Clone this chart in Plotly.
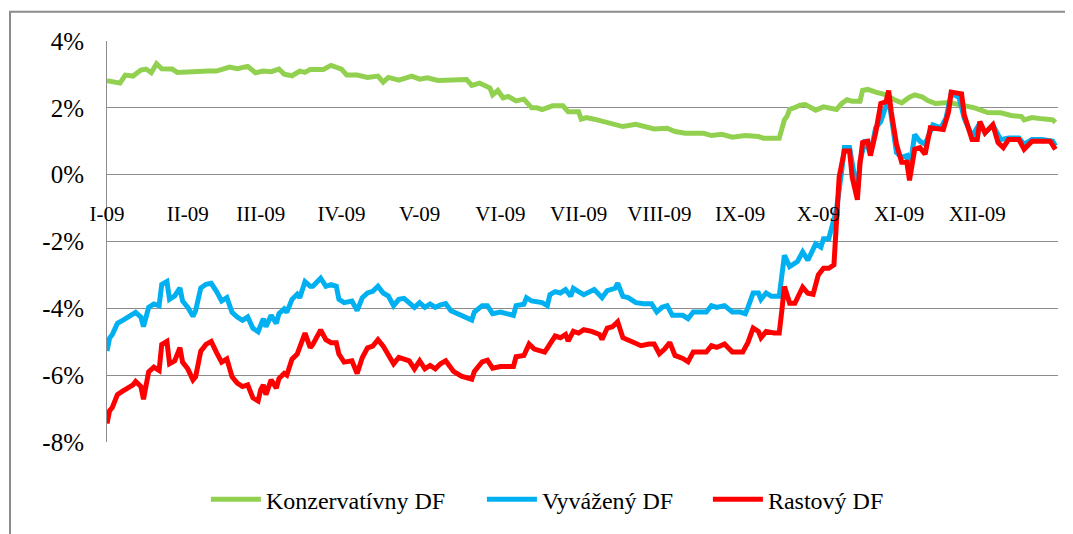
import pandas as pd
import plotly.graph_objects as go

# day of year 2009 (0 = 1 Jan) and return in %
START = pd.Timestamp("2009-01-01")

kons_days = [0, 5, 7, 10, 13, 15, 17, 19, 21, 25, 27, 31, 35, 39, 42, 45, 47, 50, 54, 57,
             60, 63, 66, 68, 71, 74, 76, 78, 83, 86, 90, 92, 96, 100, 104, 106, 108, 112, 117, 120,
             123, 127, 133, 138, 140, 143, 147, 148, 150, 152, 154, 157, 160, 163, 165, 167, 171, 175, 177, 181,
             182, 184, 187, 190, 193, 198, 203, 206, 210, 215, 218, 222, 229, 232, 236, 240, 245, 250, 252, 258,
             259, 260, 261, 262, 264, 266, 268, 270, 272, 275, 278, 280, 282, 284, 286, 289, 290, 292, 295, 299,
             302, 305, 308, 310, 313, 315, 318, 323, 328, 333, 338, 343, 347, 351, 352, 355, 359, 363, 364]
kons_vals = [2.81, 2.74, 2.98, 2.95, 3.13, 3.16, 3.05, 3.32, 3.17, 3.16, 3.06, 3.08, 3.11, 3.10, 3.10, 3.19, 3.22, 3.17, 3.24, 3.05,
             3.10, 3.08, 3.16, 3.01, 2.96, 3.10, 3.06, 3.15, 3.15, 3.27, 3.16, 2.98, 2.98, 2.91, 2.95, 2.77, 2.91, 2.83, 2.95, 2.86,
             2.90, 2.82, 2.82, 2.85, 2.67, 2.74, 2.59, 2.39, 2.52, 2.30, 2.34, 2.21, 2.26, 2.00, 2.00, 1.95, 2.06, 2.06, 1.88, 1.88,
             1.66, 1.71, 1.66, 1.59, 1.54, 1.44, 1.51, 1.44, 1.37, 1.39, 1.29, 1.24, 1.24, 1.17, 1.21, 1.12, 1.17, 1.14, 1.09, 1.09,
             1.40, 1.64, 1.75, 1.95, 2.01, 2.08, 2.10, 2.00, 1.93, 2.03, 1.96, 1.95, 2.13, 2.24, 2.20, 2.20, 2.52, 2.55, 2.47, 2.39,
             2.25, 2.15, 2.32, 2.39, 2.32, 2.22, 2.13, 2.16, 2.08, 2.00, 1.86, 1.85, 1.77, 1.74, 1.64, 1.71, 1.67, 1.64, 1.56]

vyv_days = [0, 1, 2, 4, 6, 8, 10, 11, 13, 14, 15, 16, 18, 20, 21, 23, 24, 26, 28, 29,
            31, 33, 34, 36, 38, 40, 42, 44, 46, 48, 50, 52, 54, 56, 58, 59, 60, 61, 63, 65,
            66, 68, 69, 71, 73, 74, 76, 78, 79, 82, 84, 86, 88, 89, 91, 94, 96, 98, 100, 102,
            104, 106, 108, 110, 112, 114, 116, 118, 120, 122, 124, 126, 128, 130, 132, 133, 136, 138, 140, 141,
            144, 146, 148, 151, 154, 156, 157, 160, 161, 163, 167, 169, 170, 172, 174, 176, 178, 179, 181, 183,
            187, 189, 190, 192, 195, 196, 198, 200, 203, 206, 209, 211, 213, 215, 217, 221, 223, 225, 230, 232,
            234, 237, 240, 243, 245, 246, 248, 250, 251, 253, 255, 258, 259, 260, 262, 265, 267, 269, 272, 274,
            275, 277, 278, 280, 282, 283, 285, 287, 288, 289, 291, 293, 295, 297, 299, 300, 301, 303, 305, 307,
            308, 310, 312, 314, 317, 320, 322, 324, 327, 329, 332, 335, 337, 340, 343, 346, 350, 352, 355, 359,
            363, 364]
vyv_vals = [-5.28, -4.89, -4.79, -4.45, -4.36, -4.26, -4.16, -4.12, -4.26, -4.55, -4.26, -3.97, -3.87, -3.92, -3.29, -3.20, -3.73, -3.63, -3.39, -3.78,
            -3.97, -4.24, -4.07, -3.39, -3.28, -3.25, -3.49, -3.78, -3.68, -4.12, -4.26, -4.36, -4.26, -4.60, -4.70, -4.50, -4.31, -4.55, -4.21, -4.45,
            -4.16, -4.02, -4.12, -3.73, -3.58, -3.68, -3.20, -3.34, -3.34, -3.10, -3.34, -3.29, -3.34, -3.73, -3.83, -3.78, -4.07, -3.68, -3.54, -3.49,
            -3.34, -3.54, -3.63, -3.92, -3.73, -3.70, -3.83, -3.97, -3.83, -3.97, -3.87, -3.97, -3.90, -3.86, -4.07, -4.11, -4.21, -4.31, -4.35, -4.11,
            -3.92, -3.92, -4.16, -4.11, -4.16, -4.21, -3.92, -3.88, -3.68, -3.78, -3.83, -3.92, -3.59, -3.50, -3.54, -3.44, -3.64, -3.40, -3.50, -3.59,
            -3.44, -3.59, -3.68, -3.47, -3.40, -3.25, -3.64, -3.68, -3.83, -3.86, -3.86, -4.11, -3.97, -3.92, -4.21, -4.21, -4.31, -4.11, -4.11, -3.92,
            -3.97, -3.92, -4.11, -4.11, -4.16, -3.97, -3.54, -3.54, -3.73, -3.54, -3.64, -3.64, -2.90, -2.41, -2.75, -2.60, -2.31, -2.56, -2.07, -2.17,
            -1.92, -1.92, -1.63, -1.04, 0.13, 0.81, 0.81, -0.10, -0.55, 0.40, 1.05, 0.61, 1.40, 1.59, 2.15, 2.30, 1.75, 0.66, 0.52, 0.57,
            0.13, 1.20, 1.00, 0.91, 1.49, 1.40, 1.69, 2.42, 2.32, 1.69, 1.15, 1.54, 1.25, 1.49, 1.05, 1.10, 1.10, 0.91, 1.05, 1.05,
            1.00, 0.86]

rast_days = [0, 1, 2, 4, 6, 8, 10, 11, 13, 14, 15, 16, 18, 20, 21, 23, 24, 26, 28, 29,
             31, 33, 34, 36, 38, 40, 42, 44, 46, 48, 50, 52, 54, 56, 58, 59, 60, 61, 63, 65,
             66, 68, 69, 71, 73, 74, 76, 78, 79, 82, 84, 86, 88, 89, 91, 94, 96, 98, 100, 102,
             104, 106, 108, 110, 112, 114, 116, 118, 120, 122, 124, 126, 128, 130, 132, 133, 136, 138, 140, 141,
             144, 146, 148, 151, 154, 156, 157, 160, 162, 164, 168, 170, 172, 174, 176, 177, 179, 181, 183, 186,
             189, 190, 192, 194, 196, 198, 201, 203, 205, 208, 210, 212, 214, 216, 218, 221, 223, 225, 230, 232,
             234, 237, 240, 244, 246, 248, 250, 251, 253, 256, 258, 259, 260, 262, 264, 267, 269, 271, 273, 275,
             277, 279, 280, 281, 283, 285, 286, 288, 289, 290, 292, 293, 295, 297, 299, 300, 301, 303, 305, 307,
             308, 310, 312, 314, 316, 321, 323, 324, 328, 329, 332, 334, 335, 337, 340, 342, 344, 346, 350, 352,
             355, 362, 364]
rast_vals = [-7.45, -7.06, -6.97, -6.58, -6.48, -6.39, -6.29, -6.19, -6.34, -6.72, -6.29, -5.90, -5.76, -5.86, -5.08, -4.99, -5.66, -5.57, -5.18, -5.61,
             -5.81, -6.14, -6.05, -5.28, -5.08, -4.99, -5.32, -5.61, -5.51, -6.05, -6.24, -6.34, -6.29, -6.68, -6.77, -6.43, -6.29, -6.58, -6.14, -6.39,
             -6.10, -5.95, -6.00, -5.52, -5.37, -5.18, -4.74, -5.18, -5.08, -4.65, -4.94, -5.03, -5.03, -5.37, -5.61, -5.57, -5.95, -5.47, -5.18, -5.13,
             -4.94, -5.13, -5.42, -5.66, -5.47, -5.52, -5.57, -5.81, -5.57, -5.81, -5.71, -5.81, -5.66, -5.57, -5.76, -5.89, -6.03, -6.08, -6.12, -5.89,
             -5.60, -5.55, -5.79, -5.74, -5.74, -5.74, -5.45, -5.41, -5.07, -5.22, -5.31, -5.07, -4.83, -4.88, -4.78, -4.98, -4.69, -4.74, -4.64, -4.69,
             -4.78, -4.93, -4.59, -4.55, -4.40, -4.88, -4.98, -5.02, -5.12, -5.07, -5.07, -5.36, -5.22, -5.02, -5.41, -5.50, -5.60, -5.31, -5.31, -5.12,
             -5.17, -5.07, -5.31, -5.31, -5.02, -4.59, -4.69, -4.88, -4.69, -4.74, -4.74, -4.07, -3.35, -3.85, -3.85, -3.37, -3.55, -3.58, -3.00, -2.80,
             -2.80, -2.70, -1.24, -0.07, 0.71, 0.71, -0.07, -0.75, 0.32, 0.96, 1.00, 0.57, 1.25, 2.13, 2.18, 2.52, 1.88, 0.91, 0.37, 0.37,
             -0.17, 0.76, 0.81, 0.61, 1.40, 1.35, 1.88, 2.47, 2.42, 1.79, 1.05, 1.05, 1.59, 1.25, 1.49, 0.96, 0.81, 1.05, 1.05, 0.76,
             1.00, 1.00, 0.76]

month_ticks = ["2009-01-01", "2009-02-01", "2009-03-01", "2009-04-01", "2009-05-01", "2009-06-01",
               "2009-07-01", "2009-08-01", "2009-09-01", "2009-10-01", "2009-11-01", "2009-12-01"]
month_labels = ["I-09", "II-09", "III-09", "IV-09", "V-09", "VI-09",
                "VII-09", "VIII-09", "IX-09", "X-09", "XI-09", "XII-09"]
y_ticks = [-8, -6, -4, -2, 0, 2, 4]
y_labels = ["-8%", "-6%", "-4%", "-2%", "0%", "2%", "4%"]

# name, days, values, colour, legend entry width
series = [
    ("Konzervatívny DF", kons_days, kons_vals, "#92D050", 211),
    ("Vyvážený DF", vyv_days, vyv_vals, "#00B0F0", 161),
    ("Rastový DF", rast_days, rast_vals, "#FF0000", 130),
]

FONT = "Liberation Serif, serif"
GRID = "#8c8c8c"
INK = "#000000"

fig = go.Figure()
for name, days, vals, color, lw in series:
    dates = START + pd.to_timedelta(days, unit="D")
    fig.add_trace(go.Scatter(
        x=dates, y=vals, mode="lines", name=name, legendwidth=lw,
        line=dict(color=color, width=5)
    ))

# page has an 8px body margin, so the figure is drawn slightly smaller
fig.update_layout(
    width=1065, height=526,
    paper_bgcolor="white", plot_bgcolor="white",
    margin=dict(l=99, r=15, t=33, b=82),
    showlegend=True,
    legend=dict(orientation="h", x=0.104, xanchor="left", y=-0.144, yanchor="middle",
                itemwidth=50, font=dict(family=FONT, size=24, color=INK)),
    xaxis=dict(
        type="date", range=["2009-01-01", "2010-01-01"],
        anchor="free", position=8 / 12, automargin=False,
        tickvals=month_ticks, ticktext=month_labels,
        showgrid=False, showline=False, zeroline=False, ticks="",
        ticklabelstandoff=24,
        tickfont=dict(family=FONT, size=21, color=INK),
    ),
    yaxis=dict(
        range=[-8, 4], tickvals=y_ticks, ticktext=y_labels, automargin=False,
        showgrid=True, gridcolor=GRID, gridwidth=1,
        showline=True, linecolor=GRID, linewidth=1,
        zeroline=False, ticks="", ticklabelstandoff=17,
        tickfont=dict(family=FONT, size=25, color=INK),
    ),
    # outer chart border (extends beyond the cropped picture)
    shapes=[dict(type="rect", xref="paper", yref="paper",
                 x0=-97 / 951, x1=1.05, y0=-0.25, y1=1 + 30 / 410,
                 line=dict(color="#8c8c8c", width=2), fillcolor="rgba(0,0,0,0)")],
)

fig.write_html("out.html")
